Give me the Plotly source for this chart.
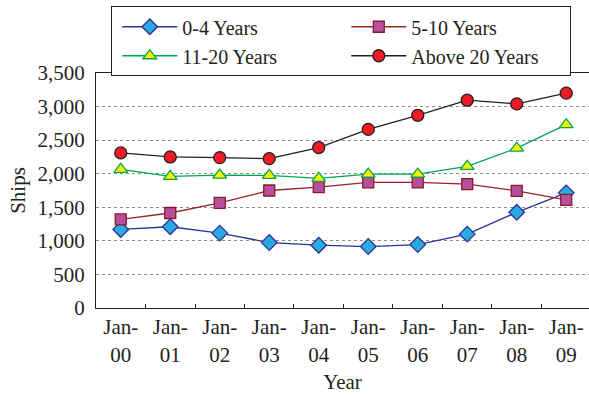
import plotly.graph_objects as go

# Fleet size by age group, January of each year
years = ["Jan-<br>00", "Jan-<br>01", "Jan-<br>02", "Jan-<br>03", "Jan-<br>04",
         "Jan-<br>05", "Jan-<br>06", "Jan-<br>07", "Jan-<br>08", "Jan-<br>09"]
age_0_4 = [1170, 1210, 1115, 975, 935, 915, 945, 1100, 1425, 1715]
age_5_10 = [1320, 1415, 1565, 1750, 1800, 1870, 1870, 1845, 1745, 1610]
age_11_20 = [2065, 1960, 1980, 1975, 1930, 1995, 1995, 2110, 2380, 2730]
age_above_20 = [2310, 2250, 2240, 2225, 2390, 2660, 2870, 3095, 3040, 3200]

FONT = "Liberation Serif"

series = [
    ("0-4 Years", age_0_4, "#2e3192", "diamond", "#29abe2", "#2e3192", 12),
    ("5-10 Years", age_5_10, "#9b2226", "square", "#b5509c", "#8b1a2a", 11),
    ("11-20 Years", age_11_20, "#00a651", "triangle-up", "#fff200", "#00a651", 12),
    ("Above 20 Years", age_above_20, "#231f20", "circle", "#ed1c24", "#231f20", 12),
]

fig = go.Figure()
for name, vals, lc, sym, fill, edge, size in series:
    fig.add_trace(go.Scatter(
        x=years, y=vals, name=name, mode="lines+markers",
        line=dict(color=lc, width=1.3),
        marker=dict(symbol=sym, size=size, color=fill,
                    line=dict(color=edge, width=1.3)),
    ))

fig.update_layout(
    width=589, height=396,
    margin=dict(l=95.5, r=0, t=73, b=87.5),
    paper_bgcolor="white", plot_bgcolor="white",
    font=dict(family=FONT, size=21, color="#231f20"),
    showlegend=True,
    legend=dict(
        orientation="h", x=0.031, y=1.284, xanchor="left", yanchor="top",
        bordercolor="#231f20", borderwidth=1, bgcolor="white",
        entrywidth=154, itemwidth=55, indentation=5,
        font=dict(family=FONT, size=20),
        tracegroupgap=0,
    ),
    xaxis=dict(
        type="category", range=[-0.5, 9.46],
        tickson="boundaries", ticks="inside", ticklen=4, tickcolor="#231f20",
        showline=True, linecolor="#231f20", linewidth=1.3, mirror=True,
        showgrid=False,
        title=dict(text="Year", standoff=8, font=dict(family=FONT, size=21)),
        tickfont=dict(family=FONT, size=21),
    ),
    yaxis=dict(
        range=[0, 3500], dtick=500, tickformat=",d",
        showline=True, linecolor="#231f20", linewidth=1.3, mirror=False,
        showgrid=True, gridcolor="#8c8c8c", griddash="dot", gridwidth=1,
        zeroline=False,
        ticks="", ticklabelstandoff=6,
        title=dict(text="Ships", standoff=6, font=dict(family=FONT, size=21)),
        tickfont=dict(family=FONT, size=21),
    ),
)

fig.write_html("out.html")
